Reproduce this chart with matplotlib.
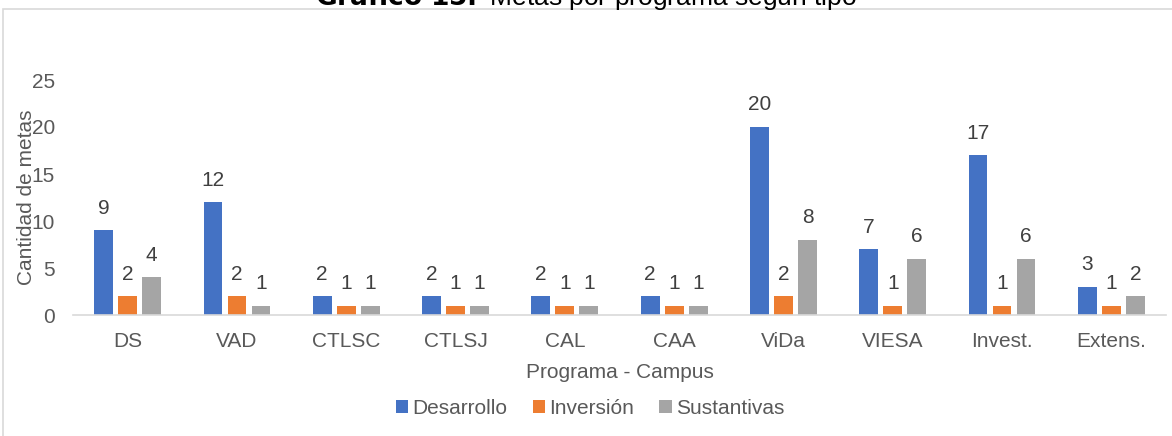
import numpy as np
import matplotlib.pyplot as plt
from matplotlib.patches import Rectangle

## data
programas = ["DS", "VAD", "CTLSC", "CTLSJ", "CAL", "CAA", "ViDa", "VIESA", "Invest.", "Extens."]
desarrollo = [9, 12, 2, 2, 2, 2, 20, 7, 17, 3]
inversion = [2, 2, 1, 1, 1, 1, 2, 1, 1, 1]
sustantivas = [4, 1, 1, 1, 1, 1, 8, 6, 6, 2]

series = [("Desarrollo", desarrollo, "#4472C4"),
          ("Inversión", inversion, "#ED7D31"),
          ("Sustantivas", sustantivas, "#A5A5A5")]

plt.rcParams['font.family'] = ['Liberation Sans', 'DejaVu Sans']
txtc = "#595959"
fs = 15

W, H = 1172, 436
fig = plt.figure(figsize=(W / 100, H / 100), dpi=100)
ax = fig.add_axes([73 / W, 1 - 315 / H, (1166 - 73) / W, (315 - 80) / H])

x = np.arange(len(programas))
bw = 0.172
step = 0.22
for i, (name, vals, col) in enumerate(series):
    pos = x + (i - 1) * step
    ax.bar(pos, vals, bw, color=col, label=name)
    for p, v in zip(pos, vals):
        ax.annotate(str(v), (p, v), xytext=(0, 9), textcoords='offset points',
                    ha='center', va='bottom', fontsize=fs, color="#404040")

ax.set_xlim(-0.5, len(programas) - 0.5)
ax.set_ylim(0, 25)
ax.set_yticks([0, 5, 10, 15, 20, 25])
ax.set_xticks(x)
ax.set_xticklabels(programas)
ax.tick_params(axis='both', length=0, labelsize=fs, labelcolor=txtc)
ax.tick_params(axis='y', pad=13)
ax.tick_params(axis='x', pad=12)
for s in ['top', 'right', 'left']:
    ax.spines[s].set_visible(False)
ax.spines['bottom'].set_color("#D9D9D9")
ax.spines['bottom'].set_linewidth(1.2)

ax.set_xlabel("Programa - Campus", fontsize=fs, color=txtc, labelpad=9)
fig.text(27 / W, 1 - 197 / H, "Cantidad de metas", rotation=90, ha='center', va='center',
         fontsize=fs, color=txtc)

ax.legend(loc='center', bbox_to_anchor=(590 / W, 1 - 408 / H), bbox_transform=fig.transFigure,
          ncol=3, frameon=False, fontsize=fs, handlelength=0.6, handleheight=0.6,
          handletextpad=0.2, columnspacing=1.2, labelcolor=txtc)

# chart border (clipped at the top of the picture)
fig.patches.append(Rectangle((3 / W, -0.1), 1.2, 1 - 9 / H + 0.1, transform=fig.transFigure,
                             fill=False, edgecolor="#D9D9D9", linewidth=1.2))

# title, cut off at top as in the original
fig.text(0.5, 1 - 5 / H, r"$\bf{Gráfico\ 15.}$ Metas por programa según tipo", ha='center',
         va='baseline', fontsize=19, color="black")

fig.savefig("out.png", dpi=100)
